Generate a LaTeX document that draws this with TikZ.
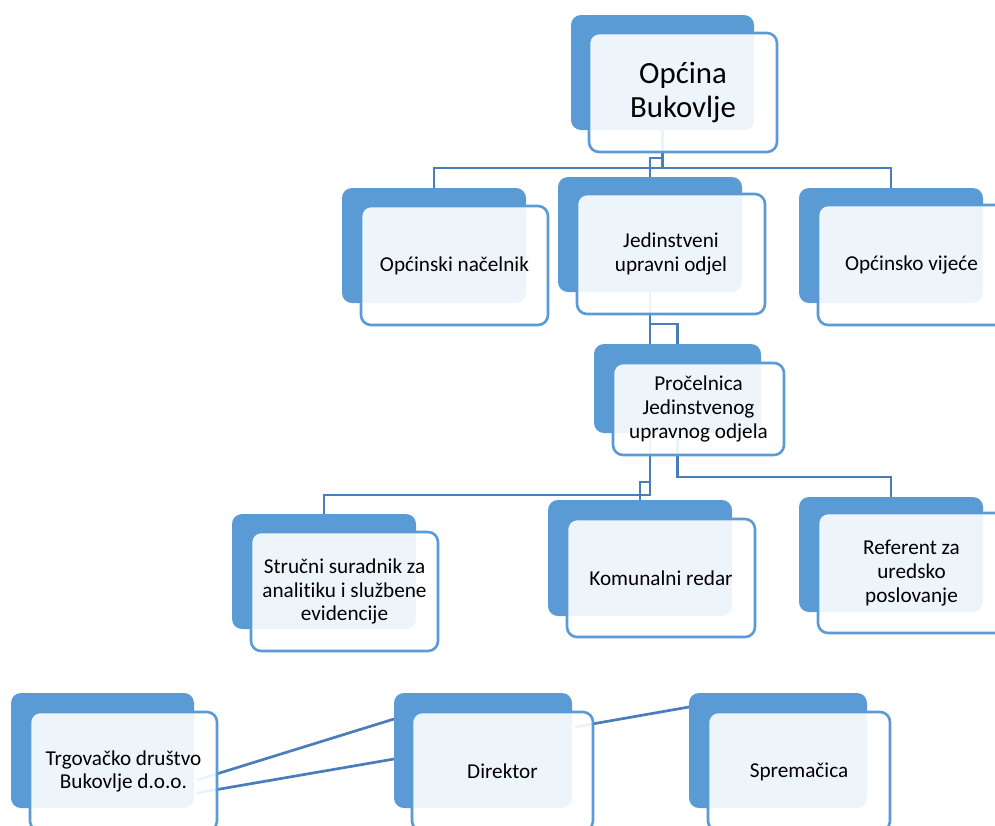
\documentclass[tikz,border=0pt]{standalone}
\usepackage{fontspec}
\setmainfont{Carlito}[Ligatures={NoCommon}]
\usetikzlibrary{calc}
\pgfdeclarelayer{bg}
\pgfsetlayers{bg,main}
\definecolor{backblue}{RGB}{91,155,213}
\definecolor{lineblue}{RGB}{74,126,187}
\begin{document}
\begin{tikzpicture}[x=1pt,y=-1pt,
  backbox/.style={draw=none, fill=backblue, rounded corners=10pt, inner sep=0pt, outer sep=0pt},
  frontbox/.style={draw=backblue, line width=2.6pt, fill=white, fill opacity=0.9, text opacity=1,
     rounded corners=10pt, inner sep=0pt, outer sep=0pt, align=center,
     font=\fontsize{21.2}{23.6}\selectfont},
  bigtext/.style={font=\fontsize{30.8}{34.5}\selectfont},
  conn/.style={draw=lineblue, line width=2.7pt}]
\useasboundingbox (0,0) rectangle (995,825);

% level 0
\node[backbox, minimum width=183pt, minimum height=115pt] (b1) at (662.5,72.5) {};
\node[frontbox, bigtext, minimum width=188pt, minimum height=119pt] (f1) at (683,92.5) {Općina\\Bukovlje};

% level 1
\node[backbox, minimum width=184pt, minimum height=115pt] (b2) at (434,245.5) {};
\node[frontbox, minimum width=187pt, minimum height=119pt] (f2) at (454.5,265.5) {Općinski načelnik};
\node[backbox, minimum width=184pt, minimum height=115pt] (b3) at (650,234.5) {};
\node[frontbox, minimum width=188pt, minimum height=120pt] (f3) at (671,254) {Jedinstveni\\upravni odjel};
\node[backbox, minimum width=184pt, minimum height=115pt] (b4) at (891,245.5) {};
\node[frontbox, minimum width=187pt, minimum height=120pt] (f4) at (911.5,265) {Općinsko vijeće};

% level 2
\node[backbox, minimum width=167pt, minimum height=89pt] (b5) at (677.5,388.5) {};
\node[frontbox, minimum width=171pt, minimum height=92pt] (f5) at (698.5,409) {Pročelnica\\Jedinstvenog\\upravnog odjela};

% level 3
\node[backbox, minimum width=184pt, minimum height=115pt] (b6) at (324,571.5) {};
\node[frontbox, minimum width=187pt, minimum height=119pt] (f6) at (344.5,591.5) {Stručni suradnik za\\analitiku i službene\\evidencije};
\node[backbox, minimum width=184pt, minimum height=116pt] (b7) at (640,558) {};
\node[frontbox, minimum width=188pt, minimum height=118pt] (f7) at (661,578) {Komunalni redar};
\node[backbox, minimum width=184pt, minimum height=115pt] (b8) at (891,554.5) {};
\node[frontbox, minimum width=187pt, minimum height=120pt] (f8) at (911.5,573) {Referent za\\uredsko\\poslovanje};

% bottom row
\node[backbox, minimum width=183pt, minimum height=115pt] (b9) at (102.5,750.5) {};
\node[frontbox, minimum width=187pt, minimum height=119pt] (f9) at (123.5,771.5) {Trgovačko društvo\\Bukovlje d.o.o.};
\node[backbox, minimum width=178pt, minimum height=115pt] (b10) at (483,750.5) {};
\node[frontbox, minimum width=181pt, minimum height=119pt] (f10) at (502.5,771.5) {Direktor};
\node[backbox, minimum width=178pt, minimum height=115pt] (b11) at (778,750.5) {};
\node[frontbox, minimum width=182pt, minimum height=119pt] (f11) at (799,771.5) {Spremačica};

\begin{pgfonlayer}{bg}
  \draw[conn] (b1.south) -- ++(0,38) -| (b2.north);
  \draw[conn] (b1.south) -- ++(0,38) -| (b4.north);
  \draw[conn] (b1.south) -- ++(0,28) -| (b3.north);
  \draw[conn] (b3.south) -- ++(0,32) -| (b5.north);
  \draw[conn] (b3.south) -- ++(0,203) -| (b6.north);
  \draw[conn] (b3.south) -- ++(0,190) -| (b7.north);
  \draw[conn] (b5.south) -- ++(0,44) -| (b8.north);
  \draw[conn] ($(b9.east)+(3,29.5)$) -- ($(b10.west)+(0,-31.5)$);
  \draw[conn] ($(b9.east)+(3,42.5)$) -- ($(b10.west)+(0,8.5)$);
  \draw[conn] ($(b10.east)+(3,-23.5)$) -- ($(b11.west)+(0,-43.5)$);
\end{pgfonlayer}
\end{tikzpicture}
\end{document}
